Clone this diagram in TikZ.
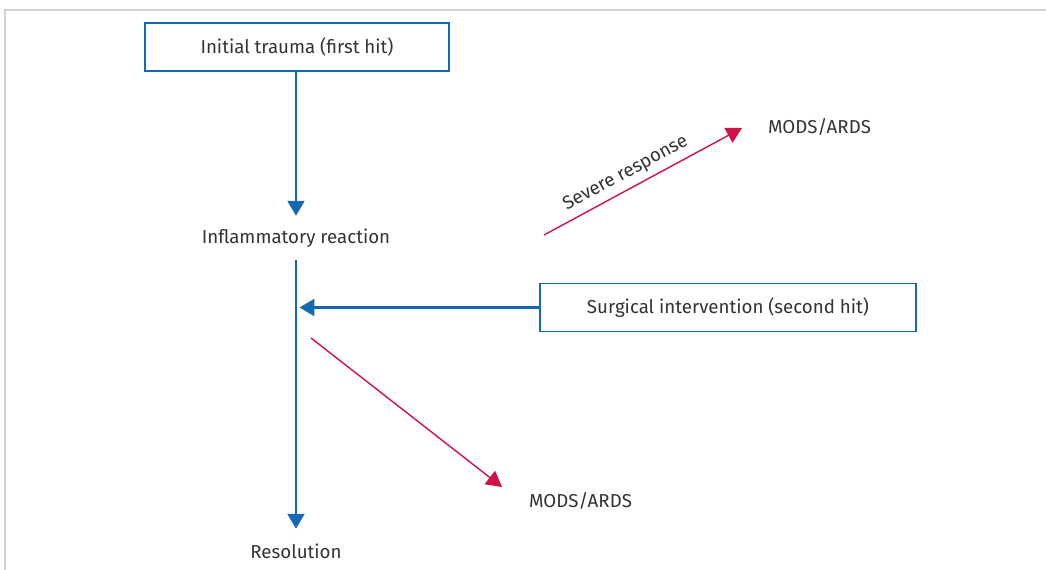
\documentclass[tikz,border=0pt]{standalone}
\usepackage{fontspec}
\setmainfont{Fira Sans}
\usetikzlibrary{arrows.meta}
\definecolor{hitblue}{RGB}{22,104,178}
\definecolor{hitred}{RGB}{208,18,72}
\definecolor{textgray}{RGB}{51,51,51}
\definecolor{framegray}{RGB}{212,212,212}
\begin{document}
\begin{tikzpicture}[x=0.025cm, y=-0.025cm,
    font=\fontsize{13.3}{15}\selectfont, text=textgray,
    hitbox/.style={draw=hitblue, line width=1.2pt, minimum height=1.2cm, inner sep=0pt},
    stage/.style={minimum height=1.1cm, inner sep=0pt},
    blueflow/.style={draw=hitblue, line width=1.5pt, -{Triangle[length=10.5pt,width=12pt]}},
    redflow/.style={draw=hitred, line width=1pt, -{Triangle[length=11pt,width=12pt]}}]
    \useasboundingbox (0,0) rectangle (1046,570);
    % Frame
    \draw[framegray, line width=0.8pt] (5,570) -- (5,10) -- (1046,10);

    % Main sequence
    \node[hitbox, minimum width=7.6cm] (trauma) at (297,47) {Initial trauma (first hit)};
    \node[stage] (inflam) at (296,238) {Inflammatory reaction};
    \node[stage] (resolution) at (296,551) {Resolution};
    \draw[blueflow] (trauma.south -| inflam) -- (inflam.north);
    \draw[blueflow] (inflam.south) -- (resolution.north);

    % Second hit
    \node[hitbox, minimum width=9.4cm] (surgery) at (728,307.5) {Surgical intervention (second hit)};
    \coordinate (join) at (inflam |- surgery);
    \draw[blueflow, shorten >=2.5pt] (surgery.west) -- (join);

    % Outcomes
    \node (mods top) at (819.5,127) {MODS/ARDS};
    \node (mods low) at (580.5,501) {MODS/ARDS};
    \coordinate (severe start) at (544,235);
    \coordinate (severe end) at (742,128);
    \draw[redflow] (severe start) -- node[pos=0.45, sloped, above=1pt] {Severe response} (severe end);
    \coordinate (low start) at (311,338);
    \coordinate (low end) at (502,487);
    \draw[redflow] (low start) -- (low end);
\end{tikzpicture}
\end{document}
